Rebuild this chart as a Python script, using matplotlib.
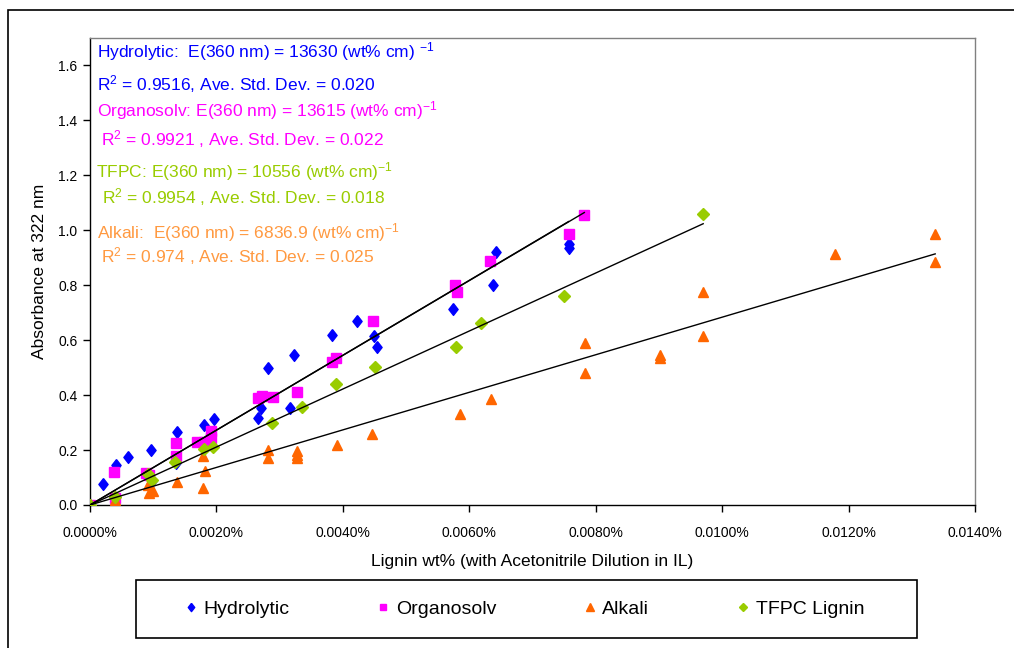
import matplotlib
matplotlib.use("Agg")
import matplotlib.pyplot as plt
from matplotlib.patches import Rectangle
import numpy as np

plt.rcParams['font.family'] = ['Liberation Sans', 'DejaVu Sans']
plt.rcParams['mathtext.default'] = 'regular'

# ---------------- data (x in wt%, y absorbance) ----------------
hydro_x = [0, 0.0002, 0.00041, 0.0006, 0.00097, 0.00098, 0.00136, 0.00138, 0.0018, 0.00196,
           0.00192, 0.00265, 0.0027, 0.00282, 0.00317, 0.00322, 0.00383, 0.00422, 0.0045,
           0.00454, 0.00574, 0.00638, 0.00643, 0.00757, 0.00757]
hydro_y = [0, 0.077, 0.145, 0.176, 0.20, 0.088, 0.153, 0.264, 0.29, 0.312,
           0.25, 0.316, 0.354, 0.50, 0.352, 0.546, 0.62, 0.668, 0.617,
           0.574, 0.713, 0.80, 0.922, 0.949, 0.935]

organo_x = [0, 0.0004, 0.000375, 0.00089, 0.00094, 0.00136, 0.00136, 0.00169, 0.0018, 0.00191,
            0.00192, 0.00265, 0.00272, 0.0029, 0.00328, 0.00383, 0.00389, 0.00447, 0.00578,
            0.0058, 0.00633, 0.00758, 0.00782]
organo_y = [0, 0.025, 0.12, 0.116, 0.11, 0.226, 0.18, 0.228, 0.228, 0.268,
            0.245, 0.388, 0.397, 0.393, 0.413, 0.521, 0.535, 0.671, 0.80,
            0.775, 0.888, 0.985, 1.056]

alkali_x = [0.0004, 0.0004, 0.00091, 0.00093, 0.00099, 0.00137, 0.00179, 0.00182, 0.00179,
            0.00282, 0.00282, 0.00327, 0.00327, 0.00327, 0.0039, 0.00446, 0.00585, 0.00634,
            0.00783, 0.00783, 0.00902, 0.00902, 0.00969, 0.00969, 0.01179, 0.01337, 0.01337]
alkali_y = [0.006, 0.02, 0.073, 0.043, 0.05, 0.085, 0.061, 0.122, 0.18,
            0.20, 0.171, 0.195, 0.183, 0.171, 0.22, 0.26, 0.332, 0.385,
            0.589, 0.479, 0.534, 0.545, 0.775, 0.617, 0.912, 0.985, 0.885]

tfpc_x = [0, 0.0004, 0.00092, 0.00098, 0.00134, 0.0018, 0.00194, 0.00288, 0.00335, 0.00389,
          0.00451, 0.00579, 0.00619, 0.0075, 0.0097]
tfpc_y = [0, 0.028, 0.112, 0.092, 0.156, 0.205, 0.211, 0.30, 0.358, 0.44,
          0.504, 0.576, 0.663, 0.76, 1.06]

# extinction coefficients, (wt% cm)^-1 with wt% as fraction
slopes = {"Hydrolytic": 13630, "Organosolv": 13615, "TFPC": 10556, "Alkali": 6836.9}

x_ticks = [0, 0.002, 0.004, 0.006, 0.008, 0.010, 0.012, 0.014]
y_ticks = [0.0, 0.2, 0.4, 0.6, 0.8, 1.0, 1.2, 1.4, 1.6]

legend_names = ["Hydrolytic", "Organosolv", "Alkali", "TFPC Lignin"]

# ---------------- styling ----------------
c_blue = "#0000FF"
c_mag = "#FF00FF"
c_orange = "#FF6600"
c_orange_txt = "#FF9940"
c_green = "#99CC00"

W, H = 1014, 648
fig = plt.figure(figsize=(W / 100, H / 100), dpi=100)

def fx(px):
    return px / W

def fy(py):
    return 1 - py / H

ax = fig.add_axes([fx(90), fy(505), fx(975) - fx(90), fy(38) - fy(505)])

diamond = [(0, 1), (0.78, 0), (0, -1), (-0.78, 0), (0, 1)]

ax.plot(hydro_x, hydro_y, linestyle="none", marker=diamond, ms=8.5, color=c_blue,
        mec=c_blue, label=legend_names[0], zorder=3)
ax.plot(organo_x, organo_y, linestyle="none", marker="s", ms=6.5, color=c_mag,
        mec=c_mag, label=legend_names[1], zorder=3)
ax.plot(alkali_x, alkali_y, linestyle="none", marker="^", ms=7.5, color=c_orange,
        mec=c_orange, label=legend_names[2], zorder=3)
ax.plot(tfpc_x, tfpc_y, linestyle="none", marker="D", ms=6, color=c_green,
        mec=c_green, label=legend_names[3], zorder=3)

# trend lines through origin
for xs, key in [(hydro_x, "Hydrolytic"), (organo_x, "Organosolv"),
                (tfpc_x, "TFPC"), (alkali_x, "Alkali")]:
    xm = max(xs)
    s = slopes[key] / 100.0  # per wt% (displayed units)
    ax.plot([0, xm], [0, s * xm], color="black", lw=1.0, zorder=4)

ax.set_xlim(0, 0.014)
ax.set_ylim(0, 1.7)
ax.set_xticks(x_ticks)
ax.set_xticklabels([f"{v:.4f}%" for v in x_ticks])
ax.set_yticks(y_ticks)
ax.set_yticklabels([f"{v:.1f}" for v in y_ticks])
ax.tick_params(direction="out", length=5, width=1, labelsize=10, colors="black", pad=4)
ax.tick_params(axis="x", pad=10)

for side in ["left", "bottom"]:
    ax.spines[side].set_color("black")
    ax.spines[side].set_linewidth(1)
for side in ["top", "right"]:
    ax.spines[side].set_color("#808080")
    ax.spines[side].set_linewidth(1)

ax.set_xlabel("Lignin wt% (with Acetonitrile Dilution in IL)", fontsize=12.5, labelpad=10)
ax.set_ylabel("Absorbance at 322 nm", fontsize=12.5, labelpad=8)

# annotations
fs = 12.5
ann = [
    ("Hydrolytic:  E(360 nm) = 13630 (wt% cm) $^{-1}$", 97, 52, c_blue),
    ("R$^{2}$ = 0.9516, Ave. Std. Dev. = 0.020", 97, 84, c_blue),
    ("Organosolv: E(360 nm) = 13615 (wt% cm)$^{-1}$", 97, 111, c_mag),
    ("R$^{2}$ = 0.9921 , Ave. Std. Dev. = 0.022", 101, 139, c_mag),
    ("TFPC: E(360 nm) = 10556 (wt% cm)$^{-1}$", 96, 172, c_green),
    ("R$^{2}$ = 0.9954 , Ave. Std. Dev. = 0.018", 102, 197, c_green),
    ("Alkali:  E(360 nm) = 6836.9 (wt% cm)$^{-1}$", 97, 233, c_orange_txt),
    ("R$^{2}$ = 0.974 , Ave. Std. Dev. = 0.025", 101, 256, c_orange_txt),
]
for txt, px, py, col in ann:
    fig.text(fx(px), fy(py), txt, color=col, fontsize=fs, ha="left", va="center")

# outer chart border
fig.add_artist(Rectangle((fx(8), fy(H + 20)), fx(W + 20), fy(10) - fy(H + 20),
                         transform=fig.transFigure, fill=False, edgecolor="black", lw=1.2))

# legend box
fig.add_artist(Rectangle((fx(136), fy(638)), fx(917) - fx(136), fy(580) - fy(638),
                         transform=fig.transFigure, fill=False, edgecolor="black", lw=1.2))
handles, labels = ax.get_legend_handles_labels()
leg = fig.legend(handles, labels, loc="center", ncol=4, frameon=False, mode="expand",
                 bbox_to_anchor=(fx(178), fy(638), fx(872) - fx(178), fy(580) - fy(638)),
                 fontsize=14, handlelength=0.5, handletextpad=0.4, markerscale=0.7,
                 borderaxespad=0)

fig.savefig("out.png", dpi=100, facecolor="white")
